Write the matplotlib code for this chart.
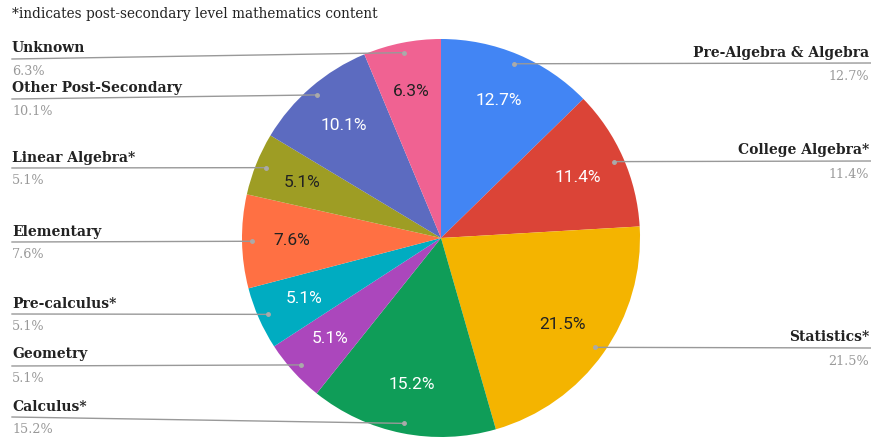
import numpy as np
import matplotlib
matplotlib.use("Agg")
import matplotlib.pyplot as plt

W, H = 871, 440

categories = ["Pre-Algebra & Algebra", "College Algebra*", "Statistics*", "Calculus*",
              "Geometry", "Pre-calculus*", "Elementary", "Linear Algebra*",
              "Other Post-Secondary", "Unknown"]
shares = [12.7, 11.4, 21.5, 15.2, 5.1, 5.1, 7.6, 5.1, 10.1, 6.3]
colors = ["#4285F4", "#DB4437", "#F4B400", "#0F9D58", "#AB47BC",
          "#00ACC1", "#FF7043", "#9E9D24", "#5C6BC0", "#F06292"]
pct_colors = ["white", "white", "#222222", "white", "white",
              "white", "#222222", "#222222", "white", "#222222"]

# label placement: side, name y, leader y (pixel coords from the top)
label_pos = {
    "Pre-Algebra & Algebra": ("right", 53, 63),
    "College Algebra*": ("right", 150, 161),
    "Statistics*": ("right", 337, 348),
    "Calculus*": ("left", 407, 417),
    "Geometry": ("left", 354, 366),
    "Pre-calculus*": ("left", 304, 314),
    "Elementary": ("left", 232, 242),
    "Linear Algebra*": ("left", 158, 168),
    "Other Post-Secondary": ("left", 88, 99),
    "Unknown": ("left", 48, 59),
}


def py(y):
    # pixel y (top origin) -> data y
    return H - y


def main():
    fig = plt.figure(figsize=(W / 100, H / 100), dpi=100)
    ax = fig.add_axes([0, 0, 1, 1])

    cx, cy, R = 441, py(238), 199
    wedges, _ = ax.pie(shares, colors=colors, startangle=90, counterclock=False,
                       center=(cx, cy), radius=R, frame=True,
                       wedgeprops=dict(linewidth=0))
    ax.set_xlim(0, W)
    ax.set_ylim(0, H)
    ax.set_aspect("equal")
    ax.axis("off")

    for w, name, val, tc in zip(wedges, categories, shares, pct_colors):
        mid = np.deg2rad((w.theta1 + w.theta2) / 2)
        ax.text(cx + 0.75 * R * np.cos(mid), cy + 0.75 * R * np.sin(mid), f"{val}%",
                ha="center", va="center", fontsize=12.5, color=tc, family="Roboto")

        dx, dy = cx + 0.95 * R * np.cos(mid), cy + 0.95 * R * np.sin(mid)
        side, ty, ly = label_pos[name]
        if side == "left":
            ax.plot([12, dx], [py(ly), dy], color="#999999", lw=1, zorder=3)
            ax.text(12, py(ty), name, ha="left", va="center", fontsize=10,
                    fontweight="bold", family="DejaVu Serif", color="#222222")
            ax.text(12, py(ly + 12), f"{val}%", ha="left", va="center", fontsize=9.2,
                    family="DejaVu Serif", color="#999999")
        else:
            ax.plot([W, dx], [py(ly), dy], color="#999999", lw=1, zorder=3)
            ax.text(869, py(ty), name, ha="right", va="center", fontsize=10,
                    fontweight="bold", family="DejaVu Serif", color="#222222")
            ax.text(869, py(ly + 13), f"{val}%", ha="right", va="center", fontsize=9.2,
                    family="DejaVu Serif", color="#999999")
        ax.plot(dx, dy, "o", ms=2.5, color="#aaaaaa", zorder=4)

    ax.text(12, py(14), "*indicates post-secondary level mathematics content",
            ha="left", va="center", fontsize=9.8, family="DejaVu Serif", color="#222222")

    fig.savefig("out.png", dpi=100)


if __name__ == "__main__":
    main()
